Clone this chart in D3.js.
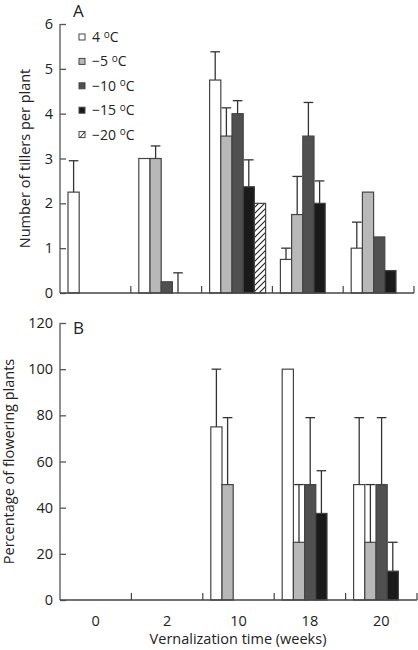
<!DOCTYPE html>
<html><head><meta charset="utf-8">
<script src="https://cdn.jsdelivr.net/npm/d3@7"></script>
<style>body{margin:0;background:#fff}svg{display:block}text{font-family:"Open Sans",sans-serif;fill:#222}</style>
</head><body><svg id="c" width="418" height="650"></svg>
<script>
const categories = ["0","2","10","18","20"];
const seriesNames = ["4","\u22125","\u221210","\u221215","\u221220"];
// Panel A: number of tillers per plant (null = no bar)
const tillers4 = [2.25, 3.0, 4.75, 0.75, 1.0];
const tillersM5 = [null, 3.0, 3.5, 1.75, 2.25];
const tillersM10 = [null, 0.25, 4.0, 3.5, 1.25];
const tillersM15 = [null, 0, 2.37, 2.0, 0.5];
const tillersM20 = [null, null, 2.0, null, null];
const tillersErr4 = [0.7, null, 0.63, 0.25, 0.58];
const tillersErrM5 = [null, 0.28, 0.63, 0.85, null];
const tillersErrM10 = [null, null, 0.29, 0.75, null];
const tillersErrM15 = [null, 0.45, 0.6, 0.5, null];
const tillersErrM20 = [null, null, null, null, null];
// Panel B: percentage of flowering plants
const flower4 = [null, null, 75, 100, 50];
const flowerM5 = [null, null, 50, 25, 25];
const flowerM10 = [null, null, null, 50, 50];
const flowerM15 = [null, null, null, 37.5, 12.5];
const flowerM20 = [null, null, null, null, null];
const flowerErr4 = [null, null, 25, null, 29];
const flowerErrM5 = [null, null, 29, 25, 25];
const flowerErrM10 = [null, null, null, 29, 29];
const flowerErrM15 = [null, null, null, 18.5, 12.5];
const flowerErrM20 = [null, null, null, null, null];
const ticksA = [0,1,2,3,4,5,6];
const ticksB = [0,20,40,60,80,100,120];

const FS = 14.5;
const fills = ["#ffffff","#b8b8b8","#505050","#1a1a1a","url(#hatch)"];
const svg = d3.select("#c");
const defs = svg.append("defs");
const pat = defs.append("pattern").attr("id","hatch").attr("patternUnits","userSpaceOnUse")
  .attr("width",6).attr("height",6);
pat.append("rect").attr("width",6).attr("height",6).attr("fill","#fff");
pat.append("path").attr("d","M-1,7 L7,-1 M-4,4 L4,-4 M2,10 L10,2").attr("stroke","#222").attr("stroke-width",1.1);

function panel(o){
  const x0 = d3.scaleBand().domain(categories).range(o.xr);
  const x1 = d3.scaleBand().domain(seriesNames).range([8, 8+56]);
  const y = d3.scaleLinear().domain(o.dom).range(o.yr);
  const g = svg.append("g");
  o.vals.forEach((arr, si) => {
    arr.forEach((v, ci) => {
      const bx = x0(categories[ci]) + x1(seriesNames[si]);
      const bw = x1.bandwidth();
      if (v !== null && v > 0) {
        g.append("rect").attr("x", bx).attr("y", y(v)).attr("width", bw).attr("height", y(0)-y(v))
          .attr("fill", fills[si]).attr("stroke","#444").attr("stroke-width",1.2);
      }
      const e = o.errs[si][ci];
      if (v !== null && e !== null) {
        const cx = bx + bw/2;
        g.append("line").attr("x1",cx).attr("x2",cx).attr("y1",y(v)).attr("y2",y(v+e))
          .attr("stroke","#333").attr("stroke-width",1.3);
        g.append("line").attr("x1",cx-4.8).attr("x2",cx+4.8).attr("y1",y(v+e)).attr("y2",y(v+e))
          .attr("stroke","#333").attr("stroke-width",1.3);
      }
    });
  });
  const ya = d3.axisLeft(y).tickValues(o.ticks).tickFormat(d3.format("d")).tickSize(-6).tickPadding(7);
  const yg = g.append("g").attr("transform",`translate(${o.xr[0]},0)`).call(ya);
  yg.select(".domain").attr("d",`M0,${o.yr[1]}V${o.yr[0]}`);
  yg.selectAll("line,path").attr("stroke","#555").attr("stroke-width",1.3);
  yg.selectAll("text").attr("font-size",FS).attr("font-family","Open Sans").attr("fill","#222");
  g.append("line").attr("x1",o.xr[0]).attr("x2",o.xr[1]).attr("y1",y(0)).attr("y2",y(0))
    .attr("stroke","#444").attr("stroke-width",1.4);
  const seps = categories.slice(1).map(c => x0(c)).concat([o.xr[1]]);
  g.selectAll(".sep").data(seps).join("line").attr("x1",d=>d).attr("x2",d=>d)
    .attr("y1",y(0)).attr("y2",y(0)-7).attr("stroke","#444").attr("stroke-width",1.2);
  g.append("text").attr("transform",`translate(${o.labX},${(o.yr[0]+o.yr[1])/2}) rotate(-90)`)
    .attr("text-anchor","middle").attr("font-size",FS).text(o.ylabel);
  g.append("text").attr("x",73).attr("y",o.letterY).attr("font-size",17).text(o.letter);
  return {x0, y};
}

const A = panel({xr:[60,414], yr:[293,24], dom:[0,6], ticks:ticksA,
  vals:[tillers4,tillersM5,tillersM10,tillersM15,tillersM20],
  errs:[tillersErr4,tillersErrM5,tillersErrM10,tillersErrM15,tillersErrM20],
  ylabel:"Number of tillers per plant", labX:30, letter:"A", letterY:17});
const B = panel({xr:[60,417], yr:[600,323], dom:[0,120], ticks:ticksB,
  vals:[flower4,flowerM5,flowerM10,flowerM15,flowerM20],
  errs:[flowerErr4,flowerErrM5,flowerErrM10,flowerErrM15,flowerErrM20],
  ylabel:"Percentage of flowering plants", labX:14, letter:"B", letterY:334});

svg.selectAll(".xl").data(categories).join("text")
  .attr("x", d => B.x0(d) + B.x0.bandwidth()/2).attr("y", 626)
  .attr("text-anchor","middle").attr("font-size",FS).text(d => d);
svg.append("text").attr("x",238).attr("y",644).attr("text-anchor","middle")
  .attr("font-size",FS).text("Vernalization time (weeks)");

const leg = svg.append("g");
seriesNames.forEach((s, i) => {
  const cy = 37 + i*24.4;
  leg.append("rect").attr("x",79).attr("y",cy-3).attr("width",6).attr("height",6)
    .attr("fill", i===4 ? "#fff" : fills[i]).attr("stroke","#444").attr("stroke-width",1);
  if (i===4) leg.append("line").attr("x1",80).attr("y1",cy+3).attr("x2",85).attr("y2",cy-3).attr("stroke","#222").attr("stroke-width",1);
  const t = leg.append("text").attr("x",92).attr("y",cy+5).attr("font-size",14);
  t.append("tspan").text(s + " ");
  t.append("tspan").attr("font-size",10).attr("dy",-4.5).text("o");
  t.append("tspan").attr("dy",4.5).text("C");
});
</script></body></html>
